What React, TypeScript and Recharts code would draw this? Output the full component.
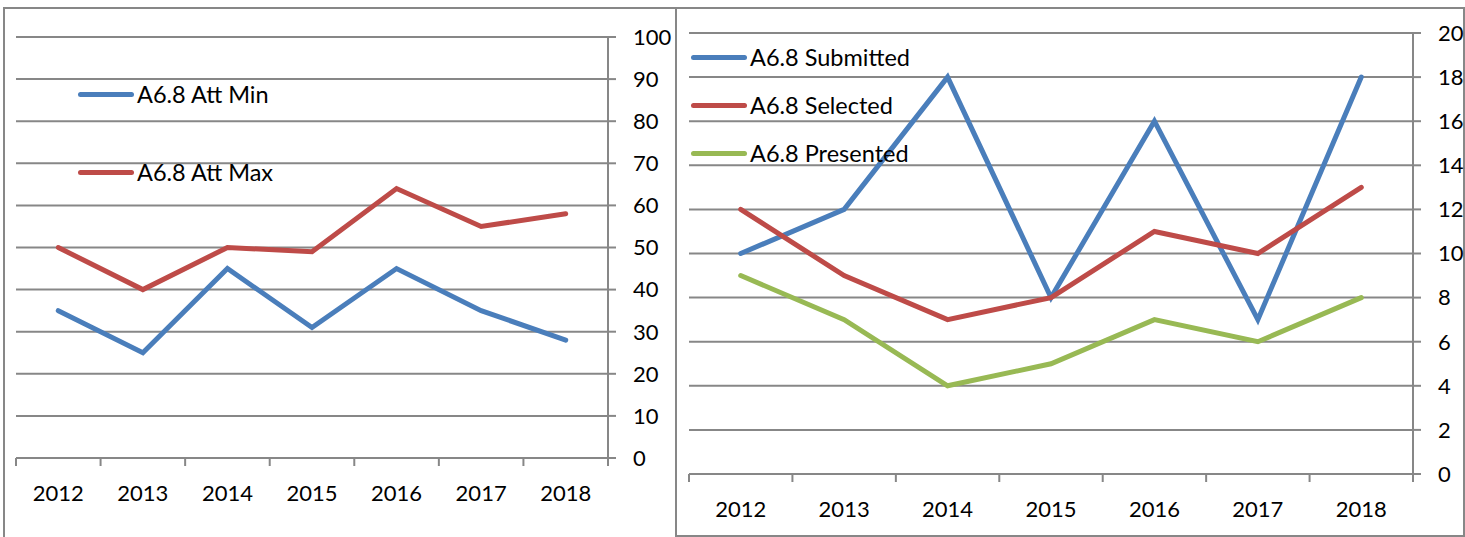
import { LineChart, Line, XAxis, YAxis, CartesianGrid, Legend } from "recharts";

const years = ["2012", "2013", "2014", "2015", "2016", "2017", "2018"];

const attMin = [35, 25, 45, 31, 45, 35, 28];
const attMax = [50, 40, 50, 49, 64, 55, 58];

const submitted = [10, 12, 18, 8, 16, 7, 18];
const selected = [12, 9, 7, 8, 11, 10, 13];
const presented = [9, 7, 4, 5, 7, 6, 8];

const leftTicks = [0, 10, 20, 30, 40, 50, 60, 70, 80, 90, 100];
const rightTicks = [0, 2, 4, 6, 8, 10, 12, 14, 16, 18, 20];

const leftNames = ["A6.8 Att Min", "A6.8 Att Max"];
const rightNames = ["A6.8 Submitted", "A6.8 Selected", "A6.8 Presented"];

const leftData = years.map((y, i) => ({ year: y, min: attMin[i], max: attMax[i] }));
const rightData = years.map((y, i) => ({
  year: y,
  submitted: submitted[i],
  selected: selected[i],
  presented: presented[i],
}));

const BLUE = "#4a7ebb";
const RED = "#be4b48";
const GREEN = "#98b954";
const GREY = "#878787";
const FONT = "Lato, 'Open Sans', sans-serif";

// excel-style ticks between categories
const makeXTick = (step: number, count: number) => (props: any) => {
  const { x, y, payload, index } = props;
  const l = x - step / 2;
  const r = x + step / 2;
  return (
    <g>
      <line x1={l} x2={l} y1={y} y2={y + 8} stroke={GREY} strokeWidth={2} />
      {index === count - 1 && <line x1={r} x2={r} y1={y} y2={y + 8} stroke={GREY} strokeWidth={2} />}
      <text x={x} y={y + 34} textAnchor="middle" dominantBaseline="central" fill="#000" fontSize={22} fontFamily={FONT}>
        {payload.value}
      </text>
    </g>
  );
};

// keep series order instead of recharts' alphabetical sort
const makeLegend = (rowH: number, order: string[]) => (props: any) => {
  const items = [...(props.payload || [])].sort((a: any, b: any) => order.indexOf(a.value) - order.indexOf(b.value));
  return (
    <div>
      {items.map((p: any) => (
        <div key={p.value} style={{ height: rowH, display: "flex", alignItems: "center" }}>
          <div style={{ width: 56, height: 5, borderRadius: 3, background: p.color }} />
          <span style={{ marginLeft: 3, fontSize: 23.5, fontFamily: FONT, color: "#000", whiteSpace: "nowrap" }}>{p.value}</span>
        </div>
      ))}
    </div>
  );
};

const LEFT_STEP = 592 / 7;
const RIGHT_STEP = 724 / 7;

export default function App() {
  return (
    <div style={{ position: "absolute", left: 0, top: 0, width: 1465, height: 537, overflow: "hidden", background: "#fff" }}>
      <div style={{ position: "absolute", left: 3, top: 7, width: 672, height: 560, border: `2px solid ${GREY}` }} />
      <div style={{ position: "absolute", left: 675, top: 7, width: 786, height: 526, border: `2px solid ${GREY}`, background: "#fff" }} />

      <div style={{ position: "absolute", left: 0, top: 0 }}>
        <LineChart width={677} height={537} data={leftData} margin={{ top: 37, left: 16, right: 9, bottom: 39 }}>
          <CartesianGrid vertical={false} stroke={GREY} strokeWidth={2} />
          <XAxis
            dataKey="year"
            height={40}
            padding={{ left: LEFT_STEP / 2, right: LEFT_STEP / 2 }}
            axisLine={{ stroke: GREY, strokeWidth: 2 }}
            tickLine={false}
            tickSize={0}
            tickMargin={0}
            interval={0}
            tick={makeXTick(LEFT_STEP, years.length)}
          />
          <YAxis
            orientation="right"
            width={60}
            domain={[0, 100]}
            ticks={leftTicks}
            axisLine={{ stroke: GREY, strokeWidth: 2 }}
            tickLine={{ stroke: GREY, strokeWidth: 2 }}
            tickSize={8}
            tickMargin={17}
            tick={{ fill: "#000", fontSize: 22, fontFamily: FONT }}
          />
          <Legend
            layout="horizontal"
            verticalAlign="middle"
            align="center"
            wrapperStyle={{ top: 55, left: 78, width: 300 }}
            content={makeLegend(78, leftNames)}
          />
          <Line dataKey="min" name={leftNames[0]} stroke={BLUE} strokeWidth={5} dot={false} strokeLinecap="round" isAnimationActive={false} />
          <Line dataKey="max" name={leftNames[1]} stroke={RED} strokeWidth={5} dot={false} strokeLinecap="round" isAnimationActive={false} />
        </LineChart>
      </div>

      <div style={{ position: "absolute", left: 677, top: 0 }}>
        <LineChart width={788} height={537} data={rightData} margin={{ top: 33, left: 12, right: 7, bottom: 23 }}>
          <CartesianGrid vertical={false} stroke={GREY} strokeWidth={2} />
          <XAxis
            dataKey="year"
            height={40}
            padding={{ left: RIGHT_STEP / 2, right: RIGHT_STEP / 2 }}
            axisLine={{ stroke: GREY, strokeWidth: 2 }}
            tickLine={false}
            tickSize={0}
            tickMargin={0}
            interval={0}
            tick={makeXTick(RIGHT_STEP, years.length)}
          />
          <YAxis
            orientation="right"
            width={45}
            domain={[0, 20]}
            ticks={rightTicks}
            axisLine={{ stroke: GREY, strokeWidth: 2 }}
            tickLine={{ stroke: GREY, strokeWidth: 2 }}
            tickSize={8}
            tickMargin={17}
            tick={{ fill: "#000", fontSize: 22, fontFamily: FONT }}
          />
          <Legend
            layout="horizontal"
            verticalAlign="middle"
            align="center"
            wrapperStyle={{ top: 33, left: 14, width: 300 }}
            content={makeLegend(48, rightNames)}
          />
          <Line dataKey="submitted" name={rightNames[0]} stroke={BLUE} strokeWidth={5} dot={false} strokeLinecap="round" isAnimationActive={false} />
          <Line dataKey="selected" name={rightNames[1]} stroke={RED} strokeWidth={5} dot={false} strokeLinecap="round" isAnimationActive={false} />
          <Line dataKey="presented" name={rightNames[2]} stroke={GREEN} strokeWidth={5} dot={false} strokeLinecap="round" isAnimationActive={false} />
        </LineChart>
      </div>
    </div>
  );
}
